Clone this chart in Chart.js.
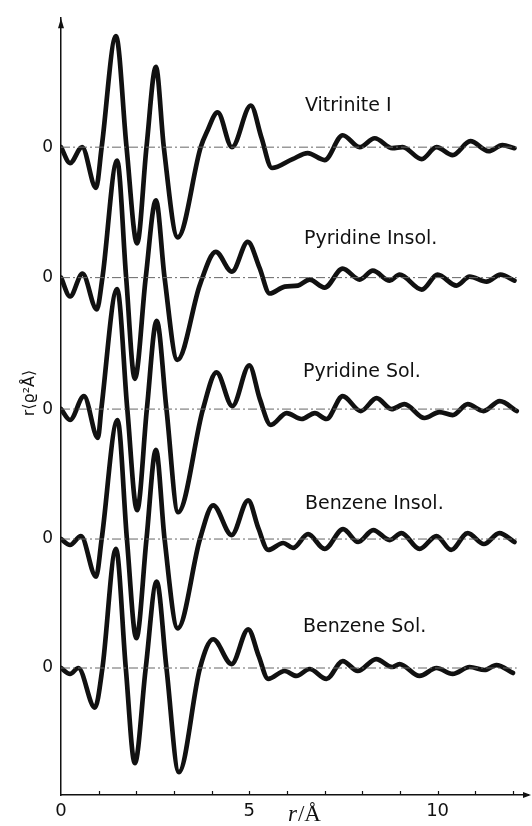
<!DOCTYPE html>
<html>
<head>
<meta charset="utf-8">
<script src="https://cdn.jsdelivr.net/npm/chart.js@4.4.1/dist/chart.umd.min.js"></script>
<style>
  html, body { margin: 0; padding: 0; background: #fff; }
  #wrap { width: 532px; height: 826px; position: relative; }
</style>
</head>
<body>
<div id="wrap"><canvas id="grafico"></canvas></div>
<script>
// Curvas de distribuição radial, de cima para baixo
const nomes = ["Vitrinite I", "Pyridine Insol.", "Pyridine Sol.", "Benzene Insol.", "Benzene Sol."];

// nível do zero de cada curva no eixo vertical
const zeros = [65.3, 52.15, 38.9, 25.8, 12.8];

// r em Å e valor relativo ao zero de cada curva
const vitriniteR = [0, 0.24, 0.56, 0.93, 1.08, 1.46, 1.74, 2.02, 2.27, 2.52, 2.73, 3.1, 3.71, 3.87, 4.16, 4.54, 5.04, 5.32, 5.6, 6.15, 6.55, 7.0, 7.48, 7.93, 8.33, 8.8, 9.07, 9.58, 9.97, 10.4, 10.87, 11.35, 11.72, 12.04];
const vitriniteV = [0, -1.6, 0, -4.1, 0, 11.2, 0, -9.7, 0, 8.1, 0, -9.1, 0, 1.5, 3.5, 0, 4.2, 1.0, -2.1, -1.2, -0.6, -1.3, 1.2, 0, 0.9, -0.1, 0, -1.2, 0, -0.8, 0.6, -0.4, 0.2, -0.1];

const pirInsolR = [0, 0.24, 0.57, 0.95, 1.1, 1.49, 1.73, 1.96, 2.25, 2.52, 2.75, 3.09, 3.69, 4.11, 4.54, 4.96, 5.27, 5.54, 5.94, 6.29, 6.6, 7.0, 7.48, 7.93, 8.28, 8.73, 8.99, 9.58, 10.0, 10.5, 10.85, 11.3, 11.67, 12.04];
const pirInsolV = [0, -1.9, 0.4, -3.2, 0, 11.8, 0, -10.2, 0, 7.8, 0, -8.3, -0.7, 2.6, 0.6, 3.6, 1.0, -1.6, -0.9, -0.8, -0.2, -1.0, 0.9, -0.2, 0.7, -0.3, 0.3, -1.2, 0.3, -0.8, 0.1, -0.4, 0.3, -0.3];

const pirSolR = [0, 0.24, 0.61, 0.98, 1.07, 1.49, 1.76, 2.02, 2.28, 2.54, 2.8, 3.11, 3.77, 4.13, 4.55, 5.0, 5.28, 5.57, 5.99, 6.39, 6.74, 7.05, 7.48, 7.96, 8.38, 8.78, 9.12, 9.65, 10.05, 10.4, 10.8, 11.22, 11.65, 12.1];
const pirSolV = [0, -1.1, 1.3, -2.9, 0, 12.1, 0, -10.2, 0, 8.9, 0, -10.4, 0, 3.7, 0.3, 4.4, 1.0, -1.6, -0.4, -1.0, -0.4, -1.0, 1.3, -0.2, 1.1, 0, 0.5, -0.9, -0.3, -0.6, 0.5, -0.2, 0.8, -0.2];

const benzInsolR = [0, 0.24, 0.53, 0.93, 1.08, 1.5, 1.75, 2.0, 2.27, 2.52, 2.75, 3.1, 3.69, 4.04, 4.53, 4.97, 5.24, 5.5, 5.9, 6.16, 6.56, 7.0, 7.49, 7.89, 8.29, 8.73, 9.04, 9.52, 9.97, 10.36, 10.8, 11.23, 11.64, 12.04];
const benzInsolV = [0, -0.6, 0.3, -3.8, 0, 12.0, 0, -10.0, 0, 9.0, 0, -9.0, 0, 3.4, 0.4, 3.9, 1.1, -1.1, -0.4, -0.9, 0.5, -1.0, 1.0, -0.3, 0.9, -0.1, 0.6, -1.0, 0.3, -1.1, 0.6, -0.5, 0.6, -0.3];

const benzSolR = [0, 0.24, 0.46, 0.9, 1.1, 1.46, 1.72, 1.96, 2.25, 2.54, 2.8, 3.13, 3.69, 4.04, 4.53, 4.97, 5.25, 5.5, 5.94, 6.25, 6.6, 7.05, 7.48, 7.88, 8.37, 8.8, 8.99, 9.52, 9.97, 10.4, 10.85, 11.25, 11.56, 12.0];
const benzSolV = [0, -0.6, 0, -4.0, 0, 12.0, 0, -9.6, 0, 8.7, 0, -10.5, 0, 2.9, 0.4, 3.9, 1.2, -1.1, -0.3, -0.8, -0.1, -1.1, 0.7, -0.3, 0.9, 0.1, 0.4, -0.8, 0, -0.6, 0.1, -0.2, 0.3, -0.5];

// rótulos do eixo r
const ticksR = [0, 5, 10];
const fimLinhaZero = 12.1;

const curvas = [
  [vitriniteR, vitriniteV],
  [pirInsolR, pirInsolV],
  [pirSolR, pirSolV],
  [benzInsolR, benzInsolV],
  [benzSolR, benzSolV],
];

const PRETO = "#111";

function montarDatasets() {
  const linhasZero = zeros.map(z => ({
    data: [{ x: 0, y: z }, { x: fimLinhaZero, y: z }],
    borderColor: "#666",
    borderWidth: 1,
    borderDash: [9, 3, 2, 3],
    pointRadius: 0,
    tension: 0,
  }));

  const linhasCurvas = curvas.map(([rs, vs], i) => ({
    label: nomes[i],
    data: rs.map((r, k) => ({ x: r, y: zeros[i] + vs[k] })),
    borderColor: PRETO,
    borderWidth: 4.7,
    pointRadius: 0,
    cubicInterpolationMode: "monotone",
    borderCapStyle: "round",
    borderJoinStyle: "round",
  }));

  return [...linhasZero, ...linhasCurvas];
}

// textos, setas e marquinhas do eixo
const extras = {
  id: "extras",
  afterDraw(chart) {
    const { ctx, chartArea, scales } = chart;
    const eixoX = scales.x;
    const base = chartArea.bottom;
    ctx.save();
    ctx.fillStyle = PRETO;
    ctx.strokeStyle = PRETO;

    ctx.lineWidth = 1.2;
    for (let i = 1; i <= 12; i++) {
      const px = Math.round(eixoX.getPixelForValue(i)) + 0.5;
      ctx.beginPath();
      ctx.moveTo(px, base);
      ctx.lineTo(px, base - 4);
      ctx.stroke();
    }

    // seta à direita
    ctx.beginPath();
    ctx.moveTo(531, base);
    ctx.lineTo(523, base - 3);
    ctx.lineTo(523, base + 3);
    ctx.closePath();
    ctx.fill();

    // seta no topo
    const xy = chartArea.left;
    ctx.beginPath();
    ctx.moveTo(xy, chartArea.top);
    ctx.lineTo(xy - 3, chartArea.top + 10);
    ctx.lineTo(xy + 3, chartArea.top + 10);
    ctx.closePath();
    ctx.fill();

    // nomes das amostras
    ctx.font = "19px 'DejaVu Sans'";
    ctx.textAlign = "left";
    ctx.textBaseline = "alphabetic";
    const posNomes = [[305, 111], [304, 244], [303, 377], [305, 509], [303, 632]];
    nomes.forEach((n, i) => ctx.fillText(n, posNomes[i][0], posNomes[i][1]));

    // título do eixo r
    ctx.font = "italic 23px 'Liberation Serif'";
    ctx.textAlign = "left";
    const larguraR = ctx.measureText("r").width;
    ctx.fillText("r", 288, 821);
    ctx.font = "23px 'Liberation Serif'";
    ctx.fillText("/Å", 288 + larguraR + 1, 821);

    // título do eixo vertical
    ctx.translate(30, 393);
    ctx.rotate(-Math.PI / 2);
    ctx.font = "16px 'DejaVu Sans'";
    ctx.textAlign = "center";
    ctx.textBaseline = "middle";
    ctx.fillText("r⟨ϱ²Å⟩", 0, 0);
    ctx.restore();
  }
};

new Chart(document.getElementById("grafico"), {
  type: "line",
  data: { datasets: montarDatasets() },
  options: {
    responsive: true,
    maintainAspectRatio: false,
    animation: false,
    layout: { padding: { top: 12, right: 4, left: 0, bottom: 0 } },
    plugins: {
      legend: { display: false },
      tooltip: { enabled: false },
    },
    scales: {
      x: {
        type: "linear",
        min: 0,
        max: 12.4,
        afterFit(escala) { escala.height = 31; },
        afterBuildTicks(escala) { escala.ticks = ticksR.map(v => ({ value: v })); },
        grid: { display: false, drawTicks: false },
        border: { display: true, color: PRETO, width: 1.5 },
        ticks: {
          padding: 6,
          color: PRETO,
          maxRotation: 0,
          autoSkip: false,
          font: { family: "DejaVu Sans", size: 18 },
        },
      },
      y: {
        type: "linear",
        min: 0,
        max: 78.3,
        afterFit(escala) { escala.width = 61; },
        afterBuildTicks(escala) { escala.ticks = zeros.map(v => ({ value: v })); },
        grid: { display: false, drawTicks: false },
        border: { display: true, color: PRETO, width: 1.5 },
        ticks: {
          padding: 8,
          color: PRETO,
          autoSkip: false,
          callback: () => "0",
          font: { family: "DejaVu Sans", size: 17 },
        },
      },
    },
  },
  plugins: [extras],
});
</script>
</body>
</html>
